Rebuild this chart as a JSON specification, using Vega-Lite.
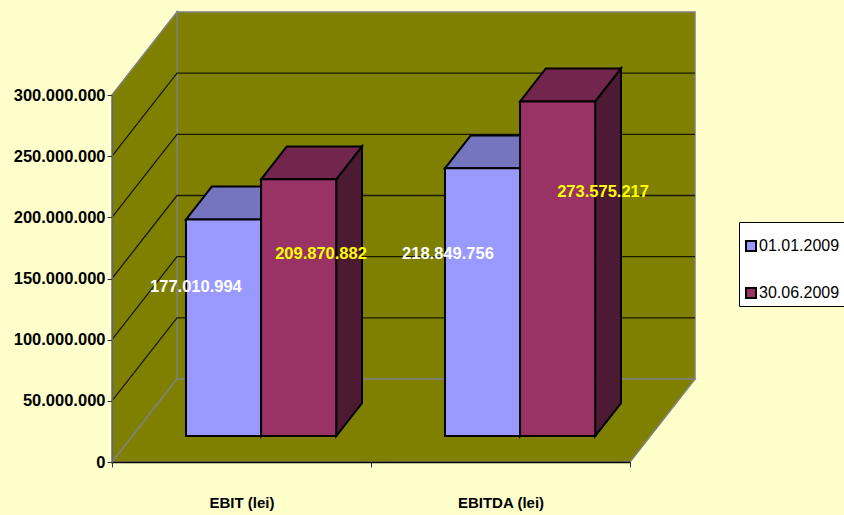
{
"$schema":"https://vega.github.io/schema/vega-lite/v6.json",
"width":518,"height":367,
"padding":{"left":112,"top":95,"right":214,"bottom":53},
"autosize":{"type":"none"},
"background":"#FFFFCC",
"view":{"stroke":null},
"config":{"font":"Liberation Sans"},
"datasets":{
"bars":[
{"category":"EBIT (lei)","series":"01.01.2009","value":177010994},
{"category":"EBIT (lei)","series":"30.06.2009","value":209870882},
{"category":"EBITDA (lei)","series":"01.01.2009","value":218849756},
{"category":"EBITDA (lei)","series":"30.06.2009","value":273575217}
],
"grid":[
{"tick":50000000,"vertex":0},{"tick":50000000,"vertex":1},{"tick":50000000,"vertex":2},
{"tick":100000000,"vertex":0},{"tick":100000000,"vertex":1},{"tick":100000000,"vertex":2},
{"tick":150000000,"vertex":0},{"tick":150000000,"vertex":1},{"tick":150000000,"vertex":2},
{"tick":200000000,"vertex":0},{"tick":200000000,"vertex":1},{"tick":200000000,"vertex":2},
{"tick":250000000,"vertex":0},{"tick":250000000,"vertex":1},{"tick":250000000,"vertex":2}
],
"edge":[{"e":0},{"e":1}]
},
"encoding":{
"x":{"field":"X","type":"quantitative","scale":{"domain":[0,2],"nice":false,"zero":false},
"axis":{"title":null,"values":[0,0.5,1,1.5,2],"grid":false,"zindex":1,"domainColor":"#000000","domainWidth":1.5,"tickColor":"#333333","tickSize":5,
"tickOpacity":{"condition":{"test":"datum.value==0.5||datum.value==1.5","value":0},"value":1},
"labelExpr":"datum.value==0.5?'EBIT (lei)':datum.value==1.5?'EBITDA (lei)':''",
"labelFont":"Liberation Sans","labelFontWeight":"bold","labelFontSize":15,"labelColor":"#000000","labelPadding":28,"labelOverlap":false,"labelFlush":false}},
"y":{"field":"Y","type":"quantitative","scale":{"domain":[0,300000000],"nice":false,"zero":false},
"axis":{"title":null,"values":[0,50000000,100000000,150000000,200000000,250000000,300000000],"grid":false,"zindex":1,"domainColor":"#666666","domainWidth":1.5,"tickColor":"#333333","tickSize":5,
"labelExpr":"replace(format(datum.value,','),regexp(',','g'),'.')",
"labelFont":"Liberation Sans","labelFontWeight":"bold","labelFontSize":16.5,"labelColor":"#000000","labelPadding":2,"labelOverlap":false}}
},
"layer":[
{"data":{"name":"edge"},
"transform":[{"filter":"datum.e==0"},{"calculate":"0.251","as":"X"},{"calculate":"2.251","as":"X2"},{"calculate":"67840000","as":"Y"},{"calculate":"367840000","as":"Y2"}],
"mark":{"type":"rect","fill":"#808000","stroke":"#808080","strokeWidth":1.5},
"encoding":{"x2":{"field":"X2"},"y2":{"field":"Y2"}}},
{"data":{"name":"edge"},
"transform":[{"calculate":"datum.e*0.251","as":"X"},{"calculate":"datum.e*67840000","as":"Y"},{"calculate":"datum.Y+300000000","as":"Y2"}],
"mark":{"type":"area","orient":"vertical","fill":"#808000","stroke":"#808080","strokeWidth":1.5},
"encoding":{"y2":{"field":"Y2"}}},
{"data":{"name":"edge"},
"transform":[{"calculate":"datum.e*0.251","as":"X"},{"calculate":"datum.X+2","as":"X2"},{"calculate":"datum.e*67840000","as":"Y"}],
"mark":{"type":"area","orient":"horizontal","fill":"#808000","stroke":"#808080","strokeWidth":1.5},
"encoding":{"x2":{"field":"X2"}}},
{"data":{"name":"grid"},
"transform":[{"calculate":"[0,0.251,2.251][datum.vertex]","as":"X"},{"calculate":"datum.tick+(datum.vertex>0?67840000:0)","as":"Y"}],
"mark":{"type":"line","color":"#1a1a00","strokeWidth":1.3},
"encoding":{"detail":{"field":"tick"},"order":{"field":"vertex"}}},
{"data":{"name":"bars"},
"transform":[
{"calculate":"(datum.category==='EBIT (lei)'?0:1)+0.2856+(datum.series==='01.01.2009'?0:0.29)","as":"left"},
{"calculate":"datum.category+datum.series","as":"id"},
{"calculate":"[0,1]","as":"ends"},{"flatten":["ends"],"as":["e"]},
{"calculate":"datum.left+0.29+datum.e*0.0997","as":"X"},
{"calculate":"21200000+datum.e*26930000","as":"Y"},
{"calculate":"datum.Y+datum.value","as":"Y2"}],
"mark":{"type":"area","orient":"vertical","stroke":"#000000","strokeWidth":2},
"encoding":{"detail":{"field":"id"},"y2":{"field":"Y2"},
"fill":{"condition":{"test":"datum.series==='01.01.2009'","value":"#4D4D80"},"value":"#4D1A33"}}},
{"data":{"name":"bars"},
"transform":[
{"calculate":"(datum.category==='EBIT (lei)'?0:1)+0.2856+(datum.series==='01.01.2009'?0:0.29)","as":"left"},
{"calculate":"datum.category+datum.series","as":"id"},
{"calculate":"[0,1]","as":"ends"},{"flatten":["ends"],"as":["e"]},
{"calculate":"datum.left+datum.e*0.0997","as":"X"},
{"calculate":"datum.X+0.29","as":"X2"},
{"calculate":"21200000+datum.value+datum.e*26930000","as":"Y"}],
"mark":{"type":"area","orient":"horizontal","stroke":"#000000","strokeWidth":2},
"encoding":{"detail":{"field":"id"},"x2":{"field":"X2"},
"fill":{"condition":{"test":"datum.series==='01.01.2009'","value":"#7474BF"},"value":"#73264D"}}},
{"data":{"name":"bars"},
"transform":[
{"calculate":"(datum.category==='EBIT (lei)'?0:1)+0.2856+(datum.series==='01.01.2009'?0:0.29)","as":"X"},
{"calculate":"datum.X+0.29","as":"X2"},
{"calculate":"21200000","as":"Y"},
{"calculate":"21200000+datum.value","as":"Y2"}],
"mark":{"type":"rect","stroke":"#000000","strokeWidth":2},
"encoding":{"x2":{"field":"X2"},"y2":{"field":"Y2"},
"color":{"field":"series","type":"nominal","scale":{"domain":["01.01.2009","30.06.2009"],"range":["#9999FF","#993366"]},
"legend":{"title":" ","titleFontSize":10,"titlePadding":2,"orient":"none","legendX":627,"legendY":127,"symbolType":"square","symbolSize":100,"symbolStrokeColor":"#000000","symbolStrokeWidth":2,"symbolOpacity":1,"labelFont":"Liberation Sans","labelFontSize":16,"labelColor":"#000000","labelLimit":200,"labelOffset":0,"padding":4,"rowPadding":29,"strokeColor":"#000000","fillColor":"#FFFFFF"}}}},
{"data":{"name":"bars"},
"transform":[
{"calculate":"(datum.category==='EBIT (lei)'?0:2)+(datum.series==='01.01.2009'?0:1)","as":"idx"},
{"calculate":"[0.324,0.807,1.297,1.896][datum.idx]","as":"X"},
{"calculate":"21200000+datum.value*[0.69,0.71,0.68,0.73][datum.idx]","as":"Y"},
{"calculate":"replace(format(datum.value,','),regexp(',','g'),'.')","as":"label"}],
"mark":{"type":"text","font":"Liberation Sans","fontWeight":"bold","fontSize":16.5,"align":"center","baseline":"middle"},
"encoding":{"text":{"field":"label"},
"fill":{"condition":{"test":"datum.series==='01.01.2009'","value":"#FFFFFF"},"value":"#FFFF00"}}}
]
}
